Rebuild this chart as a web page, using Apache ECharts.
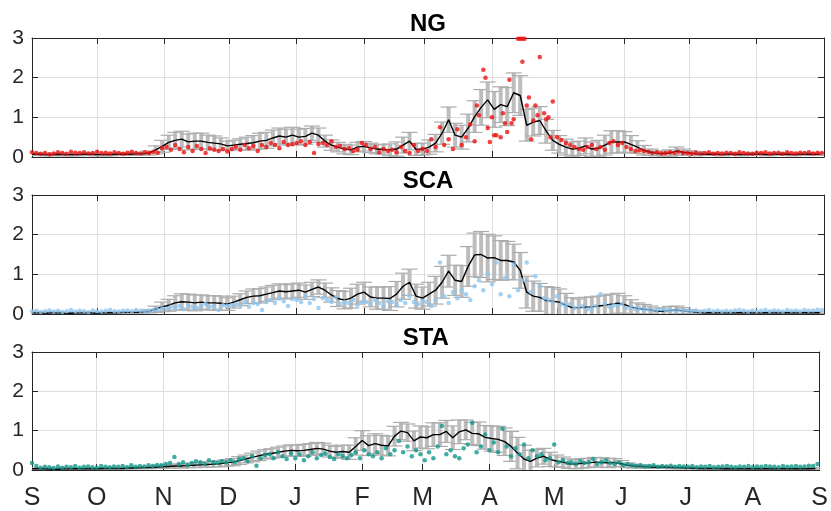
<!DOCTYPE html>
<html><head><meta charset="utf-8">
<script src="https://cdn.jsdelivr.net/npm/echarts@6/dist/echarts.min.js"></script>
<style>html,body{margin:0;padding:0;background:#fff}#c{width:831px;height:511px}</style>
</head><body><div id="c"></div>
<script>
// ---- tick labels / categories ----
const monthLabels = ['S','O','N','D','J','F','M','A','M','J','J','A','S'];
const monthStartDays = [0,30,61,91,122,153,181,212,242,273,303,334,365];
const panelTitles = ['NG','SCA','STA'];
const yTicks = [0,1,2,3];
const meanStep = 3;   // mean & std sampled every 3 days
const dotStep = 2;    // dots sampled every 2 days

// ---- NG ----
const ngMean = [0.07,0.07,0.06,0.06,0.07,0.06,0.06,0.06,0.07,0.07,0.06,0.06,0.06,0.07,0.07,0.07,0.08,0.08,
0.1,0.18,0.27,0.37,0.42,0.45,0.38,0.4,0.4,0.37,0.35,0.33,0.28,
0.3,0.32,0.34,0.36,0.4,0.42,0.48,0.53,0.5,0.55,
0.5,0.52,0.6,0.55,0.4,0.3,0.25,0.2,0.18,0.25,
0.27,0.23,0.2,0.19,0.18,0.2,0.3,0.4,0.19,0.2,
0.25,0.35,0.6,0.94,0.55,0.5,0.73,1.02,1.25,1.44,
1.2,1.32,1.27,1.62,1.55,0.8,0.88,0.92,0.65,0.42,
0.32,0.25,0.2,0.22,0.28,0.2,0.22,0.3,0.38,0.38,
0.38,0.32,0.25,0.17,0.12,0.09,0.09,0.1,0.15,0.12,
0.1,0.08,
0.07,0.07,0.07,0.06,0.07,0.07,0.06,0.07,0.07,0.07,0.06,0.07,0.07,0.07,0.06,0.07,0.07,0.07,0.07];
const ngStd = [0.03,0.03,0.03,0.03,0.03,0.03,0.03,0.03,0.03,0.03,0.03,0.03,0.03,0.03,0.03,0.03,0.03,0.03,
0.05,0.1,0.15,0.18,0.2,0.2,0.2,0.2,0.2,0.18,0.18,0.15,0.12,
0.12,0.14,0.16,0.18,0.2,0.2,0.2,0.2,0.2,0.2,
0.2,0.2,0.18,0.18,0.15,0.13,0.12,0.12,0.12,0.12,
0.12,0.12,0.12,0.12,0.15,0.18,0.2,0.22,0.15,0.15,
0.18,0.22,0.28,0.32,0.3,0.3,0.35,0.4,0.45,0.45,
0.45,0.45,0.48,0.5,0.5,0.4,0.35,0.35,0.3,0.25,
0.22,0.2,0.18,0.18,0.2,0.18,0.2,0.25,0.28,0.28,
0.26,0.22,0.16,0.12,0.08,0.06,0.06,0.08,0.1,0.08,
0.06,0.05,
0.03,0.03,0.03,0.03,0.03,0.03,0.03,0.03,0.03,0.03,0.03,0.03,0.03,0.03,0.03,0.03,0.03,0.03,0.03];
const ngDots = [0.12,0.1,0.08,0.1,0.07,0.09,0.12,0.1,0.08,0.13,0.11,0.1,0.12,0.09,0.1,0.13,0.1,0.11,0.09,0.12,0.1,0.08,0.11,0.13,0.1,0.09,0.12,0.1,0.13,0.11,
0.22,0.25,0.18,0.3,0.2,0.12,0.25,0.15,0.28,0.2,0.1,0.22,0.18,0.15,0.2,0.14,
0.2,0.25,0.18,0.3,0.22,0.28,0.15,0.3,0.25,0.35,0.3,0.22,0.38,0.3,0.32,
0.35,0.4,0.3,0.38,0.1,0.33,0.35,0.3,0.4,0.25,0.28,0.2,0.22,0.15,0.18,0.35,
0.3,0.2,0.25,0.12,0.2,0.15,0.18,0.12,0.25,0.15,0.1,0.3,0.15,0.2,
0.15,0.45,0.25,0.75,0.3,0.45,0.2,0.7,0.3,0.5,0.82,0.4,1.05,2.2,0.73,1.0,
0.55,0.5,0.85,1.95,0.95,2.98,2.4,1.3,0.45,1.3,2.52,1.1,1.0,1.4,0.5,0.43,
0.35,0.3,0.25,0.2,0.18,0.25,0.3,0.2,0.25,0.18,0.35,0.4,0.3,0.35,0.25,0.2,0.15,0.17,0.15,0.13,0.1,0.12,0.09,0.1,0.12,0.1,0.13,0.1,
0.1,0.08,0.11,0.09,0.1,0.12,0.08,0.1,0.09,0.11,0.1,0.08,0.12,0.1,0.09,0.08,0.11,0.1,0.12,0.09,0.1,0.11,0.08,0.12,0.1,0.09,0.11,0.1,0.12,0.09,0.11,0.1];
const ngExtraDots = [[205,1.3],[209,2.0],[211,0.38],[213,0.55],[217,1.1],[219,0.63],[221,0.85],[225,2.98],[226,2.98],[227,2.98],[229,1.5],[231,0.92],[233,1.05],[237,0.95],[239,0.5]];

// ---- SCA ----
const scaMean = [0.03,0.03,0.02,0.03,0.03,0.02,0.02,0.03,0.03,0.03,0.02,0.03,0.03,0.03,0.04,0.04,0.04,0.05,
0.07,0.12,0.18,0.22,0.28,0.31,0.3,0.28,0.3,0.28,0.28,0.27,0.25,
0.3,0.36,0.42,0.45,0.46,0.5,0.54,0.58,0.56,0.58,
0.6,0.55,0.62,0.68,0.6,0.48,0.39,0.35,0.4,0.5,
0.55,0.43,0.4,0.4,0.39,0.5,0.7,0.8,0.45,0.4,
0.5,0.6,0.8,1.08,0.85,0.82,1.2,1.49,1.5,1.41,
1.42,1.35,1.35,1.31,1.1,0.55,0.45,0.42,0.34,0.32,
0.3,0.22,0.16,0.16,0.17,0.18,0.2,0.22,0.25,0.27,
0.24,0.18,0.14,0.12,0.1,0.07,0.07,0.09,0.1,0.08,
0.06,0.04,
0.03,0.03,0.03,0.03,0.03,0.03,0.03,0.03,0.03,0.03,0.03,0.03,0.03,0.03,0.03,0.03,0.03,0.03,0.03];
const scaStd = [0.02,0.02,0.02,0.02,0.02,0.02,0.02,0.02,0.02,0.02,0.02,0.02,0.02,0.02,0.02,0.02,0.02,0.02,
0.04,0.08,0.12,0.15,0.18,0.2,0.2,0.2,0.18,0.18,0.18,0.18,0.16,
0.15,0.15,0.16,0.18,0.18,0.18,0.18,0.18,0.18,0.18,
0.18,0.18,0.18,0.18,0.18,0.18,0.2,0.22,0.25,0.25,
0.25,0.25,0.28,0.28,0.3,0.32,0.33,0.33,0.3,0.28,
0.3,0.35,0.4,0.4,0.38,0.4,0.5,0.55,0.58,0.6,
0.55,0.5,0.48,0.45,0.45,0.4,0.38,0.35,0.35,0.35,
0.33,0.3,0.25,0.22,0.25,0.25,0.25,0.25,0.25,0.25,
0.22,0.18,0.14,0.12,0.1,0.08,0.08,0.1,0.1,0.08,
0.05,0.04,
0.02,0.02,0.02,0.02,0.02,0.02,0.02,0.02,0.02,0.02,0.02,0.02,0.02,0.02,0.02,0.02,0.02,0.02,0.02];
const scaDots = [0.06,0.08,0.05,0.07,0.09,0.06,0.08,0.05,0.07,0.1,0.06,0.08,0.07,0.05,0.09,0.07,0.06,0.08,0.1,0.07,0.06,0.08,0.09,0.07,0.1,0.08,0.06,0.09,0.11,0.1,
0.14,0.12,0.18,0.15,0.2,0.12,0.22,0.18,0.15,0.2,0.25,0.18,0.2,0.1,0.22,0.2,
0.22,0.25,0.2,0.3,0.18,0.28,0.25,0.1,0.3,0.35,0.28,0.4,0.32,0.2,0.38,
0.35,0.3,0.45,0.28,0.38,0.15,0.4,0.35,0.3,0.42,0.25,0.3,0.28,0.35,0.22,0.3,
0.3,0.25,0.35,0.28,0.2,0.32,0.3,0.22,0.35,0.28,0.45,0.3,0.25,0.33,
0.3,0.2,0.35,1.3,0.45,0.28,0.55,0.4,0.6,0.5,0.35,0.7,0.85,0.6,1.0,0.75,
1.3,0.5,0.9,0.45,1.25,0.6,0.85,1.3,0.55,0.95,0.7,0.4,0.35,0.3,0.45,0.25,
0.2,0.25,0.15,0.18,0.2,0.12,0.15,0.2,0.5,0.25,0.18,0.22,0.2,0.25,0.15,0.18,0.12,0.15,0.1,0.12,0.08,0.1,0.12,0.08,0.1,0.09,0.11,0.08,
0.08,0.07,0.09,0.06,0.08,0.1,0.07,0.09,0.06,0.08,0.07,0.09,0.1,0.08,0.06,0.09,0.07,0.08,0.1,0.07,0.09,0.08,0.06,0.1,0.08,0.09,0.07,0.1,0.08,0.09,0.11,0.1];

// ---- STA ----
const staMean = [0.03,0.03,0.03,0.02,0.02,0.03,0.03,0.03,0.03,0.03,0.03,0.04,0.04,0.04,0.04,0.05,0.05,0.06,
0.06,0.07,0.08,0.09,0.1,0.1,0.11,0.12,0.13,0.14,0.15,0.16,0.18,
0.2,0.24,0.28,0.32,0.36,0.4,0.42,0.45,0.48,0.5,
0.49,0.5,0.52,0.55,0.53,0.48,0.45,0.47,0.45,0.6,
0.75,0.62,0.67,0.63,0.61,0.86,0.99,0.95,0.74,0.84,
0.82,0.9,0.9,0.98,0.82,0.97,1.02,0.93,0.92,0.83,
0.8,0.78,0.72,0.6,0.43,0.28,0.22,0.3,0.35,0.27,
0.23,0.2,0.16,0.15,0.17,0.18,0.2,0.19,0.18,0.19,
0.16,0.12,0.1,0.09,0.08,0.07,0.07,0.07,0.06,0.06,
0.05,0.05,
0.04,0.04,0.04,0.04,0.03,0.03,0.03,0.03,0.03,0.03,0.03,0.03,0.03,0.03,0.03,0.03,0.03,0.03,0.04];
const staStd = [0.02,0.02,0.02,0.02,0.02,0.02,0.02,0.02,0.02,0.02,0.02,0.02,0.02,0.02,0.02,0.02,0.02,0.02,
0.03,0.03,0.04,0.04,0.05,0.05,0.05,0.06,0.06,0.07,0.07,0.08,0.08,
0.09,0.1,0.1,0.11,0.12,0.12,0.12,0.13,0.13,0.14,
0.14,0.15,0.15,0.15,0.15,0.15,0.15,0.16,0.18,0.22,
0.25,0.25,0.25,0.25,0.25,0.25,0.22,0.22,0.25,0.28,
0.28,0.3,0.3,0.28,0.3,0.3,0.25,0.28,0.3,0.3,
0.32,0.33,0.35,0.38,0.4,0.35,0.28,0.22,0.2,0.18,
0.15,0.13,0.12,0.12,0.12,0.12,0.12,0.12,0.12,0.1,
0.08,0.06,0.05,0.04,0.04,0.03,0.03,0.03,0.03,0.03,
0.02,0.02,
0.02,0.02,0.02,0.02,0.02,0.02,0.02,0.02,0.02,0.02,0.02,0.02,0.02,0.02,0.02,0.02,0.02,0.02,0.02];
const staDots = [0.18,0.1,0.06,0.08,0.07,0.05,0.09,0.06,0.08,0.07,0.1,0.06,0.08,0.09,0.07,0.06,0.1,0.08,0.07,0.09,0.08,0.1,0.07,0.12,0.08,0.1,0.09,0.12,0.1,0.13,
0.12,0.15,0.18,0.33,0.15,0.2,0.12,0.18,0.22,0.2,0.15,0.25,0.2,0.18,0.22,0.2,
0.25,0.2,0.28,0.3,0.22,0.35,0.11,0.3,0.38,0.4,0.3,0.45,0.35,0.28,0.42,
0.3,0.4,0.25,0.35,0.45,0.3,0.38,0.42,0.33,0.28,0.4,0.35,0.3,0.38,0.45,0.3,
0.5,0.4,0.35,0.45,0.3,0.55,0.4,0.5,0.74,0.45,0.6,0.35,0.5,0.4,
0.25,0.45,0.3,0.6,1.12,0.4,0.5,0.35,0.3,0.55,0.65,1.2,0.45,0.6,0.9,0.5,
0.7,0.45,1.05,0.6,0.35,0.55,0.4,0.65,0.3,0.5,0.35,0.4,0.25,0.3,0.65,0.2,
0.25,0.18,0.2,0.15,0.22,0.18,0.2,0.28,0.15,0.2,0.25,0.18,0.15,0.2,0.12,0.15,0.12,0.1,0.12,0.09,0.1,0.12,0.08,0.1,0.09,0.11,0.08,0.1,
0.09,0.08,0.1,0.07,0.09,0.08,0.1,0.07,0.08,0.09,0.1,0.08,0.07,0.09,0.08,0.1,0.07,0.09,0.08,0.1,0.09,0.08,0.07,0.1,0.08,0.09,0.1,0.08,0.09,0.11,0.1,0.15];

const panels = [
  {mean: ngMean, std: ngStd, dots: ngDots, extra: ngExtraDots, color: '#f01010'},
  {mean: scaMean, std: scaStd, dots: scaDots, extra: [], color: '#8fc6f0'},
  {mean: staMean, std: staStd, dots: staDots, extra: [], color: '#12978a'}
];

// ---- layout ----
const FONT = 'Liberation Sans, Arial, sans-serif';
const AX = '#262626';
const gridTops = [38, 195, 352];
const gridH = 119;

const chart = echarts.init(document.getElementById('c'), null, {renderer: 'canvas'});

function renderErr(params, api) {
  const x = api.value(0), lo = api.value(1), hi = api.value(2);
  const a = api.coord([x, lo]), b = api.coord([x, hi]);
  const hw = 8;
  const st = {stroke: '#acacac', lineWidth: 1.2};
  return {type: 'group', children: [
    {type: 'line', shape: {x1: a[0], y1: a[1], x2: b[0], y2: b[1]}, style: {stroke: '#bdbdbd', lineWidth: 4}},
    {type: 'line', shape: {x1: a[0]-hw, y1: a[1], x2: a[0]+hw, y2: a[1]}, style: st},
    {type: 'line', shape: {x1: b[0]-hw, y1: b[1], x2: b[0]+hw, y2: b[1]}, style: st}
  ]};
}

const axLine = {show: true, onZero: false, lineStyle: {color: AX, width: 1}};
const tickIn = {show: true, inside: true, length: 6, lineStyle: {color: AX, width: 1}};

const grids = [], xAxes = [], yAxes = [], series = [];
panels.forEach((p, i) => {
  grids.push({left: 32, right: 7, top: gridTops[i], height: gridH, containLabel: false});
  const isBottom = i === 2;
  xAxes.push({
    type: 'value', gridIndex: i, min: 0, max: 365, position: 'bottom',
    axisLine: axLine,
    axisTick: Object.assign({customValues: monthStartDays}, tickIn),
    axisLabel: {show: isBottom, customValues: monthStartDays, fontSize: 25, color: AX, fontFamily: FONT, margin: 16,
      formatter: v => monthLabels[monthStartDays.indexOf(v)]},
    splitLine: {show: true, lineStyle: {color: '#dedede', width: 1}}
  });
  xAxes.push({
    type: 'value', gridIndex: i, min: 0, max: 365, position: 'top',
    name: panelTitles[i], nameLocation: 'middle', nameGap: 2,
    nameTextStyle: {fontSize: 24, fontWeight: 'bold', color: '#000', fontFamily: FONT, verticalAlign: 'bottom'},
    axisLine: axLine,
    axisTick: Object.assign({customValues: monthStartDays}, tickIn),
    axisLabel: {show: false}, splitLine: {show: false}
  });
  yAxes.push({
    type: 'value', gridIndex: i, min: 0, max: 3, interval: 1, position: 'left',
    axisLine: axLine, axisTick: tickIn,
    axisLabel: {show: true, fontSize: 21, color: AX, fontFamily: FONT, margin: 8,
      formatter: v => yTicks.includes(v) ? String(v) : ''},
    splitLine: {show: true, lineStyle: {color: '#dedede', width: 1}}
  });
  yAxes.push({
    type: 'value', gridIndex: i, min: 0, max: 3, interval: 1, position: 'right',
    axisLine: axLine, axisTick: tickIn,
    axisLabel: {show: false}, splitLine: {show: false}
  });

  const errData = p.mean.map((m, k) => [k * meanStep, m - p.std[k], m + p.std[k]]);
  const lineData = p.mean.map((m, k) => [k * meanStep, m]);
  const dotData = p.dots.map((d, k) => [k * dotStep, d]).concat(p.extra);

  series.push({
    type: 'custom', xAxisIndex: 2*i, yAxisIndex: 2*i, renderItem: renderErr,
    data: errData, clip: true, silent: true, z: 2,
    encode: {x: 0, y: [1, 2]}
  });
  series.push({
    type: 'line', xAxisIndex: 2*i, yAxisIndex: 2*i, data: lineData, showSymbol: false,
    lineStyle: {color: '#000', width: 1.4}, silent: true, z: 3, animation: false
  });
  series.push({
    type: 'scatter', xAxisIndex: 2*i, yAxisIndex: 2*i, data: dotData, symbolSize: 4.5,
    itemStyle: {color: p.color}, silent: true, z: 4, clip: true
  });
});

chart.setOption({
  animation: false,
  backgroundColor: '#fff',
  grid: grids, xAxis: xAxes, yAxis: yAxes, series: series
});
</script>
</body></html>
